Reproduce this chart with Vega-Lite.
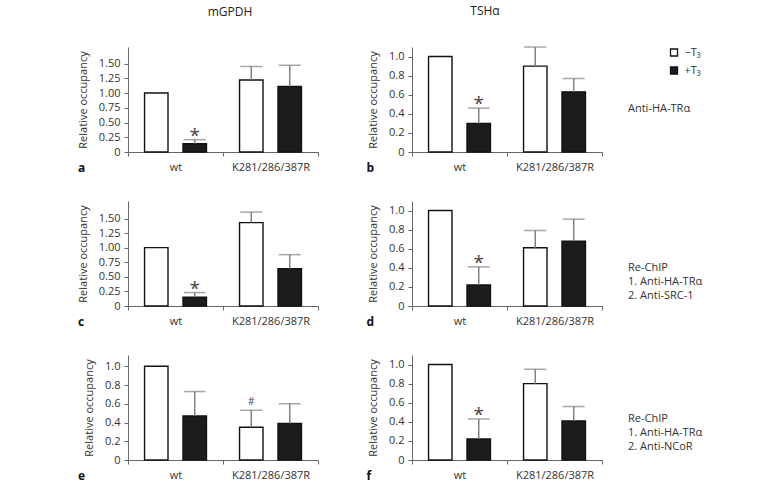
{
  "$schema": "https://vega.github.io/schema/vega-lite/v6.json",
  "padding": {"left": 77, "top": 5, "right": 5, "bottom": 5},
  "datasets": {
    "bars": [
      {"panel": "a", "group": "wt", "t3": "−T₃", "value": 1.0, "upper": null, "sig": ""},
      {"panel": "a", "group": "wt", "t3": "+T₃", "value": 0.14, "upper": 0.21, "sig": "*"},
      {"panel": "a", "group": "K281/286/387R", "t3": "−T₃", "value": 1.22, "upper": 1.45, "sig": ""},
      {"panel": "a", "group": "K281/286/387R", "t3": "+T₃", "value": 1.11, "upper": 1.47, "sig": ""},
      {"panel": "b", "group": "wt", "t3": "−T₃", "value": 1.0, "upper": null, "sig": ""},
      {"panel": "b", "group": "wt", "t3": "+T₃", "value": 0.3, "upper": 0.46, "sig": "*"},
      {"panel": "b", "group": "K281/286/387R", "t3": "−T₃", "value": 0.9, "upper": 1.1, "sig": ""},
      {"panel": "b", "group": "K281/286/387R", "t3": "+T₃", "value": 0.63, "upper": 0.77, "sig": ""},
      {"panel": "c", "group": "wt", "t3": "−T₃", "value": 1.0, "upper": null, "sig": ""},
      {"panel": "c", "group": "wt", "t3": "+T₃", "value": 0.15, "upper": 0.23, "sig": "*"},
      {"panel": "c", "group": "K281/286/387R", "t3": "−T₃", "value": 1.43, "upper": 1.61, "sig": ""},
      {"panel": "c", "group": "K281/286/387R", "t3": "+T₃", "value": 0.64, "upper": 0.88, "sig": ""},
      {"panel": "d", "group": "wt", "t3": "−T₃", "value": 1.0, "upper": null, "sig": ""},
      {"panel": "d", "group": "wt", "t3": "+T₃", "value": 0.22, "upper": 0.41, "sig": "*"},
      {"panel": "d", "group": "K281/286/387R", "t3": "−T₃", "value": 0.61, "upper": 0.79, "sig": ""},
      {"panel": "d", "group": "K281/286/387R", "t3": "+T₃", "value": 0.68, "upper": 0.91, "sig": ""},
      {"panel": "e", "group": "wt", "t3": "−T₃", "value": 1.0, "upper": null, "sig": ""},
      {"panel": "e", "group": "wt", "t3": "+T₃", "value": 0.47, "upper": 0.73, "sig": ""},
      {"panel": "e", "group": "K281/286/387R", "t3": "−T₃", "value": 0.35, "upper": 0.53, "sig": "#"},
      {"panel": "e", "group": "K281/286/387R", "t3": "+T₃", "value": 0.39, "upper": 0.6, "sig": ""},
      {"panel": "f", "group": "wt", "t3": "−T₃", "value": 1.0, "upper": null, "sig": ""},
      {"panel": "f", "group": "wt", "t3": "+T₃", "value": 0.22, "upper": 0.43, "sig": "*"},
      {"panel": "f", "group": "K281/286/387R", "t3": "−T₃", "value": 0.8, "upper": 0.95, "sig": ""},
      {"panel": "f", "group": "K281/286/387R", "t3": "+T₃", "value": 0.41, "upper": 0.56, "sig": ""}
    ],
    "notes": [
      {"row": 1, "note": "Anti-HA-TRα"},
      {"row": 2, "note": "Re-ChIP\n1. Anti-HA-TRα\n2. Anti-SRC-1"},
      {"row": 3, "note": "Re-ChIP\n1. Anti-HA-TRα\n2. Anti-NCoR"}
    ]
  },
  "vconcat": [
    {
      "hconcat": [
        {
          "width": 190, "height": 105,
          "title": {"text": "mGPDH", "dx": 7},
          "data": {"name": "bars"},
          "transform": [{"filter": "datum.panel == 'a'"}],
          "encoding": {
            "x": {"field": "group", "type": "nominal", "sort": ["wt", "K281/286/387R"], "title": "a", "scale": {"paddingInner": 0, "paddingOuter": 0}, "axis": {"titleX": -50.5}},
            "xOffset": {"field": "t3", "type": "nominal", "sort": ["−T₃", "+T₃"], "scale": {"paddingInner": 0.39, "paddingOuter": 0.43}},
            "y": {"field": "value", "type": "quantitative", "title": "Relative occupancy", "scale": {"domain": [0, 1.78], "nice": false}, "axis": {"values": [0, 0.25, 0.5, 0.75, 1, 1.25, 1.5], "labelExpr": "datum.value == 0 ? '0' : format(datum.value, '.2f')"}}
          },
          "layer": [
            {"mark": {"type": "bar", "stroke": "#111", "strokeWidth": 1.4}, "encoding": {"fill": {"field": "t3", "type": "nominal", "scale": {"domain": ["−T₃", "+T₃"], "range": ["#ffffff", "#1c1c1c"]}, "legend": {"orient": "none", "legendX": 540.5, "legendY": 0, "title": null, "symbolType": "square", "symbolSize": 49, "symbolStrokeColor": "#111", "symbolStrokeWidth": 1.3, "labelFontSize": 11, "labelColor": "#333", "rowPadding": 5, "labelOffset": 5, "padding": 0}}}},
            {"transform": [{"filter": "datum.upper != null"}], "mark": {"type": "rule", "color": "#808080", "strokeWidth": 1.5}, "encoding": {"y2": {"field": "upper"}}},
            {"transform": [{"filter": "datum.upper != null"}], "mark": {"type": "tick", "color": "#808080", "thickness": 1.5, "size": 22}, "encoding": {"y": {"field": "upper", "type": "quantitative"}}},
            {"transform": [{"filter": "datum.sig == '*'"}], "mark": {"type": "text", "fontSize": 19, "baseline": "alphabetic", "dy": 2, "color": "#444"}, "encoding": {"y": {"field": "upper", "type": "quantitative"}, "text": {"field": "sig"}}}
          ]
        },
        {
          "hconcat": [
            {
              "width": 190, "height": 105,
              "title": {"text": "TSHα", "dx": -22},
              "data": {"name": "bars"},
              "transform": [{"filter": "datum.panel == 'b'"}],
              "encoding": {
                "x": {"field": "group", "type": "nominal", "sort": ["wt", "K281/286/387R"], "title": "b", "scale": {"paddingInner": 0, "paddingOuter": 0}, "axis": {"titleX": -46}},
                "xOffset": {"field": "t3", "type": "nominal", "sort": ["−T₃", "+T₃"], "scale": {"paddingInner": 0.39, "paddingOuter": 0.43}},
                "y": {"field": "value", "type": "quantitative", "title": "Relative occupancy", "scale": {"domain": [0, 1.1], "nice": false}, "axis": {"values": [0, 0.2, 0.4, 0.6, 0.8, 1], "labelExpr": "datum.value == 0 ? '0' : format(datum.value, '.1f')"}}
              },
              "layer": [
                {"mark": {"type": "bar", "stroke": "#111", "strokeWidth": 1.4}, "encoding": {"fill": {"field": "t3", "type": "nominal", "scale": {"domain": ["−T₃", "+T₃"], "range": ["#ffffff", "#1c1c1c"]}, "legend": {"orient": "none", "legendX": 540.5, "legendY": 0, "title": null, "symbolType": "square", "symbolSize": 49, "symbolStrokeColor": "#111", "symbolStrokeWidth": 1.3, "labelFontSize": 11, "labelColor": "#333", "rowPadding": 5, "labelOffset": 5, "padding": 0}}}},
                {"transform": [{"filter": "datum.upper != null"}], "mark": {"type": "rule", "color": "#808080", "strokeWidth": 1.5}, "encoding": {"y2": {"field": "upper"}}},
                {"transform": [{"filter": "datum.upper != null"}], "mark": {"type": "tick", "color": "#808080", "thickness": 1.5, "size": 22}, "encoding": {"y": {"field": "upper", "type": "quantitative"}}},
                {"transform": [{"filter": "datum.sig == '*'"}], "mark": {"type": "text", "fontSize": 19, "baseline": "alphabetic", "dy": 2, "color": "#444"}, "encoding": {"y": {"field": "upper", "type": "quantitative"}, "text": {"field": "sig"}}}
              ]
            },
            {
              "width": 140, "height": 105,
              "data": {"name": "notes"},
              "transform": [{"filter": "datum.row == 1"}],
              "mark": {"type": "text", "align": "left", "baseline": "middle", "lineBreak": "\n", "lineHeight": 14.2, "fontSize": 11, "color": "#333"},
              "encoding": {
                "text": {"field": "note"},
                "x": {"datum": 0, "type": "quantitative", "scale": {"domain": [0, 1]}, "axis": null},
                "y": {"datum": 0.41, "type": "quantitative", "scale": {"domain": [0, 1]}, "axis": null}
              }
            }
          ],
          "spacing": 26, "bounds": "flush"
        }
      ],
      "spacing": 94, "bounds": "flush"
    },
    {
      "hconcat": [
        {
          "width": 190, "height": 105,
          "data": {"name": "bars"},
          "transform": [{"filter": "datum.panel == 'c'"}],
          "encoding": {
            "x": {"field": "group", "type": "nominal", "sort": ["wt", "K281/286/387R"], "title": "c", "scale": {"paddingInner": 0, "paddingOuter": 0}, "axis": {"titleX": -50.5}},
            "xOffset": {"field": "t3", "type": "nominal", "sort": ["−T₃", "+T₃"], "scale": {"paddingInner": 0.39, "paddingOuter": 0.43}},
            "y": {"field": "value", "type": "quantitative", "title": "Relative occupancy", "scale": {"domain": [0, 1.8], "nice": false}, "axis": {"values": [0, 0.25, 0.5, 0.75, 1, 1.25, 1.5], "labelExpr": "datum.value == 0 ? '0' : format(datum.value, '.2f')"}}
          },
          "layer": [
            {"mark": {"type": "bar", "stroke": "#111", "strokeWidth": 1.4}, "encoding": {"fill": {"field": "t3", "type": "nominal", "scale": {"domain": ["−T₃", "+T₃"], "range": ["#ffffff", "#1c1c1c"]}, "legend": {"orient": "none", "legendX": 540.5, "legendY": 0, "title": null, "symbolType": "square", "symbolSize": 49, "symbolStrokeColor": "#111", "symbolStrokeWidth": 1.3, "labelFontSize": 11, "labelColor": "#333", "rowPadding": 5, "labelOffset": 5, "padding": 0}}}},
            {"transform": [{"filter": "datum.upper != null"}], "mark": {"type": "rule", "color": "#808080", "strokeWidth": 1.5}, "encoding": {"y2": {"field": "upper"}}},
            {"transform": [{"filter": "datum.upper != null"}], "mark": {"type": "tick", "color": "#808080", "thickness": 1.5, "size": 22}, "encoding": {"y": {"field": "upper", "type": "quantitative"}}},
            {"transform": [{"filter": "datum.sig == '*'"}], "mark": {"type": "text", "fontSize": 19, "baseline": "alphabetic", "dy": 2, "color": "#444"}, "encoding": {"y": {"field": "upper", "type": "quantitative"}, "text": {"field": "sig"}}}
          ]
        },
        {
          "hconcat": [
            {
              "width": 190, "height": 105,
              "data": {"name": "bars"},
              "transform": [{"filter": "datum.panel == 'd'"}],
              "encoding": {
                "x": {"field": "group", "type": "nominal", "sort": ["wt", "K281/286/387R"], "title": "d", "scale": {"paddingInner": 0, "paddingOuter": 0}, "axis": {"titleX": -46}},
                "xOffset": {"field": "t3", "type": "nominal", "sort": ["−T₃", "+T₃"], "scale": {"paddingInner": 0.39, "paddingOuter": 0.43}},
                "y": {"field": "value", "type": "quantitative", "title": "Relative occupancy", "scale": {"domain": [0, 1.1], "nice": false}, "axis": {"values": [0, 0.2, 0.4, 0.6, 0.8, 1], "labelExpr": "datum.value == 0 ? '0' : format(datum.value, '.1f')"}}
              },
              "layer": [
                {"mark": {"type": "bar", "stroke": "#111", "strokeWidth": 1.4}, "encoding": {"fill": {"field": "t3", "type": "nominal", "scale": {"domain": ["−T₃", "+T₃"], "range": ["#ffffff", "#1c1c1c"]}, "legend": {"orient": "none", "legendX": 540.5, "legendY": 0, "title": null, "symbolType": "square", "symbolSize": 49, "symbolStrokeColor": "#111", "symbolStrokeWidth": 1.3, "labelFontSize": 11, "labelColor": "#333", "rowPadding": 5, "labelOffset": 5, "padding": 0}}}},
                {"transform": [{"filter": "datum.upper != null"}], "mark": {"type": "rule", "color": "#808080", "strokeWidth": 1.5}, "encoding": {"y2": {"field": "upper"}}},
                {"transform": [{"filter": "datum.upper != null"}], "mark": {"type": "tick", "color": "#808080", "thickness": 1.5, "size": 22}, "encoding": {"y": {"field": "upper", "type": "quantitative"}}},
                {"transform": [{"filter": "datum.sig == '*'"}], "mark": {"type": "text", "fontSize": 19, "baseline": "alphabetic", "dy": 2, "color": "#444"}, "encoding": {"y": {"field": "upper", "type": "quantitative"}, "text": {"field": "sig"}}}
              ]
            },
            {
              "width": 140, "height": 105,
              "data": {"name": "notes"},
              "transform": [{"filter": "datum.row == 2"}],
              "mark": {"type": "text", "align": "left", "baseline": "middle", "lineBreak": "\n", "lineHeight": 14.2, "fontSize": 11, "color": "#333"},
              "encoding": {
                "text": {"field": "note"},
                "x": {"datum": 0, "type": "quantitative", "scale": {"domain": [0, 1]}, "axis": null},
                "y": {"datum": 0.365, "type": "quantitative", "scale": {"domain": [0, 1]}, "axis": null}
              }
            }
          ],
          "spacing": 26, "bounds": "flush"
        }
      ],
      "spacing": 94, "bounds": "flush"
    },
    {
      "hconcat": [
        {
          "width": 190, "height": 105,
          "data": {"name": "bars"},
          "transform": [{"filter": "datum.panel == 'e'"}],
          "encoding": {
            "x": {"field": "group", "type": "nominal", "sort": ["wt", "K281/286/387R"], "title": "e", "scale": {"paddingInner": 0, "paddingOuter": 0}, "axis": {"titleX": -50.5}},
            "xOffset": {"field": "t3", "type": "nominal", "sort": ["−T₃", "+T₃"], "scale": {"paddingInner": 0.39, "paddingOuter": 0.43}},
            "y": {"field": "value", "type": "quantitative", "title": "Relative occupancy", "scale": {"domain": [0, 1.12], "nice": false}, "axis": {"values": [0, 0.2, 0.4, 0.6, 0.8, 1], "labelExpr": "datum.value == 0 ? '0' : format(datum.value, '.1f')"}}
          },
          "layer": [
            {"mark": {"type": "bar", "stroke": "#111", "strokeWidth": 1.4}, "encoding": {"fill": {"field": "t3", "type": "nominal", "scale": {"domain": ["−T₃", "+T₃"], "range": ["#ffffff", "#1c1c1c"]}, "legend": {"orient": "none", "legendX": 540.5, "legendY": 0, "title": null, "symbolType": "square", "symbolSize": 49, "symbolStrokeColor": "#111", "symbolStrokeWidth": 1.3, "labelFontSize": 11, "labelColor": "#333", "rowPadding": 5, "labelOffset": 5, "padding": 0}}}},
            {"transform": [{"filter": "datum.upper != null"}], "mark": {"type": "rule", "color": "#808080", "strokeWidth": 1.5}, "encoding": {"y2": {"field": "upper"}}},
            {"transform": [{"filter": "datum.upper != null"}], "mark": {"type": "tick", "color": "#808080", "thickness": 1.5, "size": 22}, "encoding": {"y": {"field": "upper", "type": "quantitative"}}},
            {"transform": [{"filter": "datum.sig == '#'"}], "mark": {"type": "text", "fontSize": 10, "baseline": "alphabetic", "dy": -5, "color": "#444"}, "encoding": {"y": {"field": "upper", "type": "quantitative"}, "text": {"field": "sig"}}}
          ]
        },
        {
          "hconcat": [
            {
              "width": 190, "height": 105,
              "data": {"name": "bars"},
              "transform": [{"filter": "datum.panel == 'f'"}],
              "encoding": {
                "x": {"field": "group", "type": "nominal", "sort": ["wt", "K281/286/387R"], "title": "f", "scale": {"paddingInner": 0, "paddingOuter": 0}, "axis": {"titleX": -46}},
                "xOffset": {"field": "t3", "type": "nominal", "sort": ["−T₃", "+T₃"], "scale": {"paddingInner": 0.39, "paddingOuter": 0.43}},
                "y": {"field": "value", "type": "quantitative", "title": "Relative occupancy", "scale": {"domain": [0, 1.1], "nice": false}, "axis": {"values": [0, 0.2, 0.4, 0.6, 0.8, 1], "labelExpr": "datum.value == 0 ? '0' : format(datum.value, '.1f')"}}
              },
              "layer": [
                {"mark": {"type": "bar", "stroke": "#111", "strokeWidth": 1.4}, "encoding": {"fill": {"field": "t3", "type": "nominal", "scale": {"domain": ["−T₃", "+T₃"], "range": ["#ffffff", "#1c1c1c"]}, "legend": {"orient": "none", "legendX": 540.5, "legendY": 0, "title": null, "symbolType": "square", "symbolSize": 49, "symbolStrokeColor": "#111", "symbolStrokeWidth": 1.3, "labelFontSize": 11, "labelColor": "#333", "rowPadding": 5, "labelOffset": 5, "padding": 0}}}},
                {"transform": [{"filter": "datum.upper != null"}], "mark": {"type": "rule", "color": "#808080", "strokeWidth": 1.5}, "encoding": {"y2": {"field": "upper"}}},
                {"transform": [{"filter": "datum.upper != null"}], "mark": {"type": "tick", "color": "#808080", "thickness": 1.5, "size": 22}, "encoding": {"y": {"field": "upper", "type": "quantitative"}}},
                {"transform": [{"filter": "datum.sig == '*'"}], "mark": {"type": "text", "fontSize": 19, "baseline": "alphabetic", "dy": 2, "color": "#444"}, "encoding": {"y": {"field": "upper", "type": "quantitative"}, "text": {"field": "sig"}}}
              ]
            },
            {
              "width": 140, "height": 105,
              "data": {"name": "notes"},
              "transform": [{"filter": "datum.row == 3"}],
              "mark": {"type": "text", "align": "left", "baseline": "middle", "lineBreak": "\n", "lineHeight": 14.2, "fontSize": 11, "color": "#333"},
              "encoding": {
                "text": {"field": "note"},
                "x": {"datum": 0, "type": "quantitative", "scale": {"domain": [0, 1]}, "axis": null},
                "y": {"datum": 0.394, "type": "quantitative", "scale": {"domain": [0, 1]}, "axis": null}
              }
            }
          ],
          "spacing": 26, "bounds": "flush"
        }
      ],
      "spacing": 94, "bounds": "flush"
    }
  ],
  "spacing": 28,
  "config": {
    "font": "Open Sans",
    "view": {"stroke": null},
    "axis": {"grid": false, "domainColor": "#666", "tickColor": "#666", "tickSize": 4, "labelColor": "#333", "labelFont": "Open Sans", "labelFontSize": 11, "labelPadding": 4, "titleFont": "Open Sans", "titleFontSize": 11, "titleFontWeight": "normal", "titleColor": "#333"},
    "axisX": {"labelAngle": 0, "tickBand": "extent", "labelPadding": 5, "titleFontWeight": "bold", "titleFontSize": 12, "titleColor": "#111", "titleY": 19, "titleAlign": "left", "titleBaseline": "alphabetic", "titleAngle": 0},
    "axisY": {"titlePadding": 10},
    "title": {"fontSize": 12, "fontWeight": "normal", "color": "#222", "font": "Open Sans", "baseline": "alphabetic", "offset": 28},
    "text": {"font": "Open Sans"}
  }
}
